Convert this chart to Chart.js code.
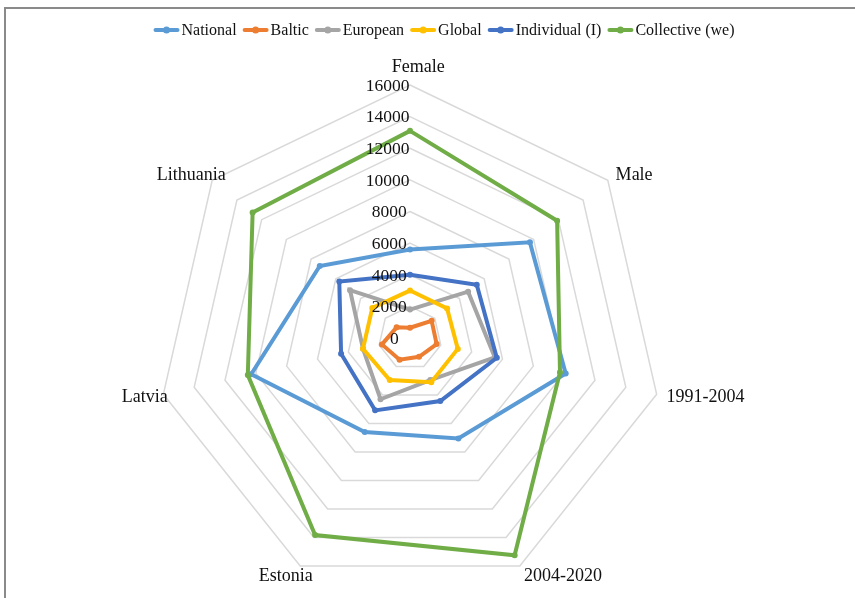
<!DOCTYPE html>
<html>
<head>
<meta charset="utf-8">
<script src="https://cdn.jsdelivr.net/npm/chart.js@4/dist/chart.umd.min.js"></script>
<style>
  html, body { margin: 0; padding: 0; background: #ffffff; }
  canvas { display: block; }
</style>
</head>
<body>
<canvas id="radar" width="855" height="598"></canvas>
<script>
// Axes of the radar, clockwise from the top
const categories = ['Female', 'Male', '1991-2004', '2004-2020', 'Estonia', 'Latvia', 'Lithuania'];

// One list per series, in axis order
const national   = [5600, 9700, 10100, 7050, 6600, 10300, 7300];
const baltic     = [650, 1750, 1730, 1320, 1520, 1820, 1080];
const european   = [1800, 4700, 5500, 2950, 4300, 3050, 4850];
const globalSeries = [3000, 3000, 3100, 3100, 2950, 3050, 3050];
const individual = [4000, 5400, 5630, 4420, 5080, 4470, 5720];
const collective = [13100, 11900, 9730, 15250, 13830, 10520, 12730];

const seriesNames = ['National', 'Baltic', 'European', 'Global', 'Individual (I)', 'Collective (we)'];
const seriesColors = ['#5B9BD5', '#ED7D31', '#A5A5A5', '#FFC000', '#4472C4', '#70AD47'];

// Ring values shown on the vertical axis
const radialTicks = [0, 2000, 4000, 6000, 8000, 10000, 12000, 14000, 16000];

const SERIF = '"Liberation Serif", "Times New Roman", serif';
const TEXT_COLOR = '#111111';

const seriesValues = [national, baltic, european, globalSeries, individual, collective];

// Frame line on the left and top edges
const frame = {
  id: 'frame',
  beforeDraw(chart) {
    const ctx = chart.ctx;
    ctx.save();
    ctx.fillStyle = '#8a8a8a';
    ctx.fillRect(4, 7, 2, chart.height);
    ctx.fillRect(4, 7, chart.width, 2);
    ctx.restore();
  }
};

// Ring values and axis names, placed like office-style radar labels
const radarText = {
  id: 'radarText',
  afterDatasetsDraw(chart) {
    const scale = chart.scales.r;
    const ctx = chart.ctx;
    ctx.save();
    ctx.fillStyle = TEXT_COLOR;
    ctx.textBaseline = 'alphabetic';
    ctx.textAlign = 'left';

    // ring values: anchored left of the vertical axis
    const tickSize = 17.5;
    ctx.font = tickSize + 'px ' + SERIF;
    const anchorX = scale.xCenter - 14;
    scale.ticks.forEach(t => {
      const label = String(t.value);
      const w = ctx.measureText(label).width;
      const y = scale.yCenter - scale.getDistanceFromCenterForValue(t.value);
      ctx.fillText(label, anchorX - 0.69 * w, y + 0.33 * tickSize);
    });

    // axis names just outside the outer ring
    const nameSize = 18;
    ctx.font = nameSize + 'px ' + SERIF;
    chart.data.labels.forEach((label, i) => {
      const p = scale.getPointPosition(i, scale.drawingArea + 10);
      const w = ctx.measureText(label).width;
      const dx = p.x - scale.xCenter;
      let left, mid = p.y;
      if (Math.abs(dx) < 1) {
        left = p.x - 0.345 * w;
        if (p.y < scale.yCenter) mid -= nameSize / 2;
      } else if (dx > 0) {
        left = p.x;
      } else {
        left = p.x - 0.69 * w;
      }
      ctx.fillText(label, left, mid + 0.33 * nameSize);
    });
    ctx.restore();
  }
};

// Series key across the top: line with a dot, then the name
const seriesKey = {
  id: 'seriesKey',
  afterDraw(chart) {
    const ctx = chart.ctx;
    const size = 16;
    ctx.save();
    ctx.font = size + 'px ' + SERIF;
    const mark = 26, textGap = 2, itemGap = 6;
    const items = chart.data.datasets.map(ds => ({
      label: ds.label,
      color: ds.borderColor,
      w: ctx.measureText(ds.label).width
    }));
    const total = items.reduce((s, it) => s + mark + textGap + it.w, 0) + itemGap * (items.length - 1);
    let x = 444 - total / 2;
    const y = 30;
    items.forEach(it => {
      ctx.strokeStyle = it.color;
      ctx.fillStyle = it.color;
      ctx.lineWidth = 4;
      ctx.lineCap = 'round';
      ctx.beginPath();
      ctx.moveTo(x + 2, y);
      ctx.lineTo(x + mark - 2, y);
      ctx.stroke();
      ctx.beginPath();
      ctx.arc(x + mark / 2, y, 3.5, 0, Math.PI * 2);
      ctx.fill();
      ctx.fillStyle = TEXT_COLOR;
      ctx.textAlign = 'left';
      ctx.textBaseline = 'alphabetic';
      ctx.fillText(it.label, x + mark + textGap, y + 0.33 * size);
      x += mark + textGap + it.w + itemGap;
    });
    ctx.restore();
  }
};

const datasets = seriesNames.map((name, i) => ({
  label: name,
  data: seriesValues[i],
  borderColor: seriesColors[i],
  backgroundColor: seriesColors[i],
  pointBackgroundColor: seriesColors[i],
  pointBorderColor: seriesColors[i],
  borderWidth: 4,
  pointRadius: 3,
  pointBorderWidth: 0,
  fill: false,
  tension: 0,
  order: seriesNames.length - i   // later series drawn on top
}));

new Chart(document.getElementById('radar'), {
  type: 'radar',
  data: { labels: categories, datasets },
  plugins: [frame, radarText, seriesKey],
  options: {
    responsive: false,
    animation: false,
    devicePixelRatio: 1,
    layout: { padding: { top: 85, bottom: 7, left: 100, right: 135 } },
    plugins: {
      legend: { display: false },
      tooltip: { enabled: false }
    },
    scales: {
      r: {
        min: radialTicks[0],
        max: radialTicks[radialTicks.length - 1],
        ticks: { stepSize: radialTicks[1] - radialTicks[0], display: false },
        grid: { color: '#d9d9d9', lineWidth: 1.5 },
        angleLines: { display: false },
        pointLabels: { display: false }
      }
    }
  }
});
</script>
</body>
</html>
